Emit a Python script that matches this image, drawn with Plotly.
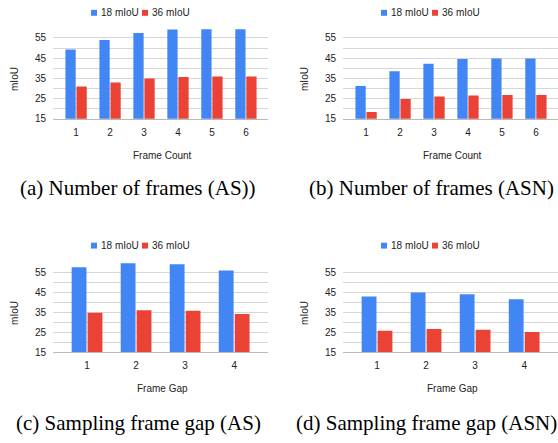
import plotly.graph_objects as go

W, H = 558, 443

# ---------------- data ----------------
frame_count = [1, 2, 3, 4, 5, 6]
frame_gap = [1, 2, 3, 4]

a_18 = [49.3, 54.0, 57.4, 59.2, 59.3, 59.3]
a_36 = [31.0, 33.0, 34.9, 35.7, 35.9, 35.9]

b_18 = [31.3, 38.5, 42.3, 44.6, 44.9, 44.9]
b_36 = [18.4, 24.8, 26.1, 26.6, 26.8, 26.8]

c_18 = [57.6, 59.6, 59.1, 56.0]
c_36 = [34.8, 36.0, 35.8, 34.2]

d_18 = [42.9, 44.9, 44.1, 41.6]
d_36 = [25.7, 26.6, 26.2, 25.1]

series_names = ["18 mIoU", "36 mIoU"]
colors = ["#4285F4", "#EA4335"]
y_ticks = [15, 25, 35, 45, 55]
captions = ["(a) Number of frames (AS))", "(b) Number of frames (ASN)",
            "(c) Sampling frame gap (AS)", "(d) Sampling frame gap (ASN)"]
x_titles = ["Frame Count", "Frame Count", "Frame Gap", "Frame Gap"]
y_title = "mIoU"

# ---------------- layout helpers (pixels -> paper) ----------------
def xp(px):
    return px / W

def yp(py):
    return 1 - py / H

YMIN, YMAX = 15, 60.3
FONT = "Liberation Sans, Arial, sans-serif"
SERIF = "Liberation Serif, Times New Roman, serif"

# panel geometry
panels = [
    dict(x0=53, x1=268, base=120.5, ppu=2.05, leg_y=13, cap_x=137.5, cap_y=191,
         xs=frame_count, ys=(a_18, a_36), xr=[0.32, 6.65]),
    dict(x0=343, x1=558, base=120.5, ppu=2.05, leg_y=13, cap_x=431, cap_y=191,
         xs=frame_count, ys=(b_18, b_36), xr=[0.32, 6.65]),
    dict(x0=53, x1=268, base=357.0, ppu=2.02, leg_y=249, cap_x=138, cap_y=429,
         xs=frame_gap, ys=(c_18, c_36), xr=[0.306, 4.69]),
    dict(x0=343, x1=558, base=357.0, ppu=2.02, leg_y=249, cap_x=426.7, cap_y=429,
         xs=frame_gap, ys=(d_18, d_36), xr=[0.306, 4.69]),
]

fig = go.Figure()
annotations = []
shapes = []

for i, p in enumerate(panels):
    n = "" if i == 0 else str(i + 1)
    xa, ya = "x" + n, "y" + n
    for k in range(2):
        fig.add_trace(go.Bar(
            x=p["xs"], y=p["ys"][k], name=series_names[k],
            marker=dict(color=colors[k], line=dict(width=0)),
            xaxis=xa, yaxis=ya, showlegend=False,
        ))
    top_px = p["base"] - (YMAX - YMIN) * p["ppu"]
    fig.layout["xaxis" + n] = dict(
        domain=[xp(p["x0"]), xp(p["x1"])], anchor=ya, range=p["xr"],
        tickvals=p["xs"], showgrid=False, zeroline=False,
        showline=True, linecolor="#b8b8b8", linewidth=1,
        ticks="outside", ticklen=4, tickcolor="rgba(0,0,0,0)",
        tickfont=dict(family=FONT, size=10, color="#222222"),
        fixedrange=True,
    )
    fig.layout["yaxis" + n] = dict(
        domain=[yp(p["base"]), yp(top_px)], anchor=xa, range=[YMIN, YMAX],
        tickvals=y_ticks, showgrid=True, gridcolor="#d6d6d6", gridwidth=1,
        minor=dict(dtick=5, tick0=15, showgrid=True, gridcolor="#d6d6d6", gridwidth=1),
        zeroline=False, showline=False,
        ticks="outside", ticklen=4, tickcolor="rgba(0,0,0,0)",
        tickfont=dict(family=FONT, size=10, color="#222222"),
        fixedrange=True,
    )

    off = p["x0"] - 53
    # legend (manual: squares + labels)
    leg_items = [(91 + off, series_names[0], colors[0]), (142 + off, series_names[1], colors[1])]
    for sx, label, col in leg_items:
        shapes.append(dict(type="rect", xref="paper", yref="paper",
                           x0=xp(sx), x1=xp(sx + 6),
                           y0=yp(p["leg_y"] + 3), y1=yp(p["leg_y"] - 3),
                           fillcolor=col, line=dict(width=0)))
        annotations.append(dict(text=label, xref="paper", yref="paper",
                                x=xp(sx + 8), y=yp(p["leg_y"]), xanchor="left", yanchor="middle",
                                showarrow=False, font=dict(family=FONT, size=10, color="#222222")))
    # axis titles
    annotations.append(dict(text=x_titles[i], xref="paper", yref="paper",
                            x=xp((p["x0"] + p["x1"]) / 2 + 2), y=yp(p["base"] + 37),
                            xanchor="center", yanchor="middle", showarrow=False,
                            font=dict(family=FONT, size=10, color="#222222")))
    annotations.append(dict(text=y_title, xref="paper", yref="paper",
                            x=xp(15 + off), y=yp((p["base"] + top_px) / 2 + 6),
                            xanchor="center", yanchor="middle", textangle=-90, showarrow=False,
                            font=dict(family=FONT, size=10, color="#222222")))
    # caption
    annotations.append(dict(text=captions[i], xref="paper", yref="paper",
                            x=xp(p["cap_x"]), y=yp(p["cap_y"]),
                            xanchor="center", yanchor="middle", showarrow=False,
                            font=dict(family=SERIF, size=21, color="#000000")))

fig.update_layout(
    width=W, height=H,
    margin=dict(l=0, r=0, t=0, b=0),
    paper_bgcolor="white", plot_bgcolor="white",
    barmode="group", bargap=0.35, bargroupgap=0.07,
    showlegend=False,
    annotations=annotations, shapes=shapes,
)

fig.write_html("out.html", config={"displayModeBar": False},
               post_script="document.body.style.margin='0';document.body.style.overflow='hidden';")
